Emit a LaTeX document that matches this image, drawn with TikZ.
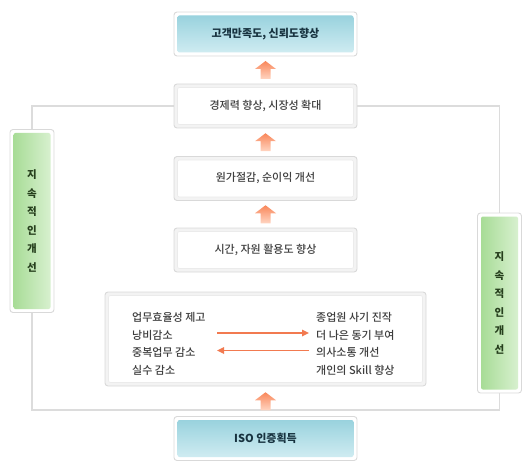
\documentclass[tikz,border=0pt]{standalone}
\usepackage{fontspec}
\newfontfamily\kr{Noto Sans CJK KR Medium}
\newfontfamily\krb{Noto Sans CJK KR}
\usetikzlibrary{arrows.meta,calc,backgrounds}
\definecolor{framec}{HTML}{D9D9D9}
\definecolor{bandc}{HTML}{F3F3F3}
\definecolor{innerc}{HTML}{EBEBEB}
\definecolor{txtc}{HTML}{3E3E3E}
\definecolor{tealtop}{HTML}{94D0DC}
\definecolor{tealbot}{HTML}{D4EEF3}
\definecolor{tealtxt}{HTML}{17323F}
\definecolor{greenl}{HTML}{A3DA91}
\definecolor{greenr}{HTML}{DCF2D4}
\definecolor{greentxt}{HTML}{263F1D}
\definecolor{loopc}{HTML}{DCDCDC}
\definecolor{arrtop}{HTML}{F9875A}
\definecolor{arrbot}{HTML}{FFD5C2}
\definecolor{harrowc}{HTML}{F27A50}
\begin{document}
\begin{tikzpicture}[x=1pt,y=-1pt,
  font=\kr\fontsize{11}{13}\selectfont,
  framebox/.style={draw=framec, line width=0.9pt, fill=bandc, rounded corners=3pt,
    inner sep=0pt, minimum width=183pt, minimum height=44pt, text=txtc},
  whitebox/.style={framebox, path picture={\filldraw[fill=white, draw=innerc, line width=0.6pt, rounded corners=2pt]
    ([shift={(3.5,-3.5)}]path picture bounding box.south west) rectangle
    ([shift={(-3.5,3.5)}]path picture bounding box.north east);}},
  tealbox/.style={framebox, fill=white, text=tealtxt, font=\krb\bfseries\fontsize{11}{13}\selectfont,
    path picture={\shade[top color=tealtop, bottom color=tealbot, rounded corners=2pt]
    ([shift={(3.5,-3.5)}]path picture bounding box.south west) rectangle
    ([shift={(-3.5,3.5)}]path picture bounding box.north east);}},
  greenbox/.style={framebox, fill=white, minimum width=44pt, minimum height=183pt, text=greentxt,
    align=center, font=\krb\bfseries\fontsize{10.5}{18.5}\selectfont,
    path picture={\shade[left color=greenl, right color=greenr, rounded corners=2pt]
    ([shift={(3.5,-3.5)}]path picture bounding box.south west) rectangle
    ([shift={(-3.5,3.5)}]path picture bounding box.north east);}},
  loopline/.style={draw=loopc, line width=1.7pt},
  linetxt/.style={anchor=west, inner sep=0pt, text=txtc},
  harrow/.style={draw=harrowc, line width=1.6pt, -{Triangle[length=7pt,width=6.5pt]}},
  uparr/.pic={\shade[top color=arrtop, bottom color=arrbot]
    (0,-9) -- (10.5,-1) -- (5,-1) -- (5,9) -- (-5,9) -- (-5,-1) -- (-10.5,-1) -- cycle;}
]
\useasboundingbox (0,0) rectangle (532,473);

\node[tealbox] (b1) at (265.5,34) {고객만족도, 신뢰도향상};
\node[whitebox] (b2) at (265.5,106) {경제력 향상, 시장성 확대};
\node[whitebox] (b3) at (265.5,178.5) {원가절감, 순이익 개선};
\node[whitebox] (b4) at (265.5,250) {시간, 자원 활용도 향상};
\node[whitebox, minimum width=321pt, minimum height=94pt] (b5) at (265.5,339) {};
\node[tealbox] (iso) at (265.5,438.5) {ISO 인증획득};

\node[greenbox] (lbox) at (32,221) {지\\속\\적\\인\\개\\선};
\node[greenbox, minimum height=180pt] (rbox) at (499.5,303) {지\\속\\적\\인\\개\\선};

\begin{scope}[on background layer]
  \coordinate (lb) at (265.5,410);
  \draw[loopline] (b2.west) -| (lbox.north);
  \draw[loopline] (b2.east) -| (rbox.north);
  \draw[loopline] (lbox.south) |- (lb) -| (rbox.south);
\end{scope}

\path (b2.north) -- coordinate[midway] (a1) (b1.south);
\path (b3.north) -- coordinate[midway] (a2) (b2.south);
\path (b4.north) -- coordinate[midway] (a3) (b3.south);
\path (iso.north) -- coordinate[midway] (a4) (b5.south);
\pic at (a1) {uparr};
\pic at (a2) {uparr};
\pic at (a3) {uparr};
\pic at (a4) {uparr};

\node[linetxt] (l1) at (132,317) {업무효율성 제고};
\node[linetxt] (l2) at (132,335) {낭비감소};
\node[linetxt] (l3) at (132,352.5) {중복업무 감소};
\node[linetxt] (l4) at (132,370) {실수 감소};
\node[linetxt] (r1) at (316,317) {종업원 사기 진작};
\node[linetxt] (r2) at (316,335) {더 나은 동기 부여};
\node[linetxt] (r3) at (316,352.5) {의사소통 개선};
\node[linetxt] (r4) at (316,370) {개인의 Skill 향상};

\coordinate (h1s) at (217,333);
\coordinate (h1e) at (309,333);
\coordinate (h2s) at (309,350.5);
\coordinate (h2e) at (217,350.5);
\draw[harrow] (h1s) -- (h1e);
\draw[harrow] (h2s) -- (h2e);
\end{tikzpicture}
\end{document}
